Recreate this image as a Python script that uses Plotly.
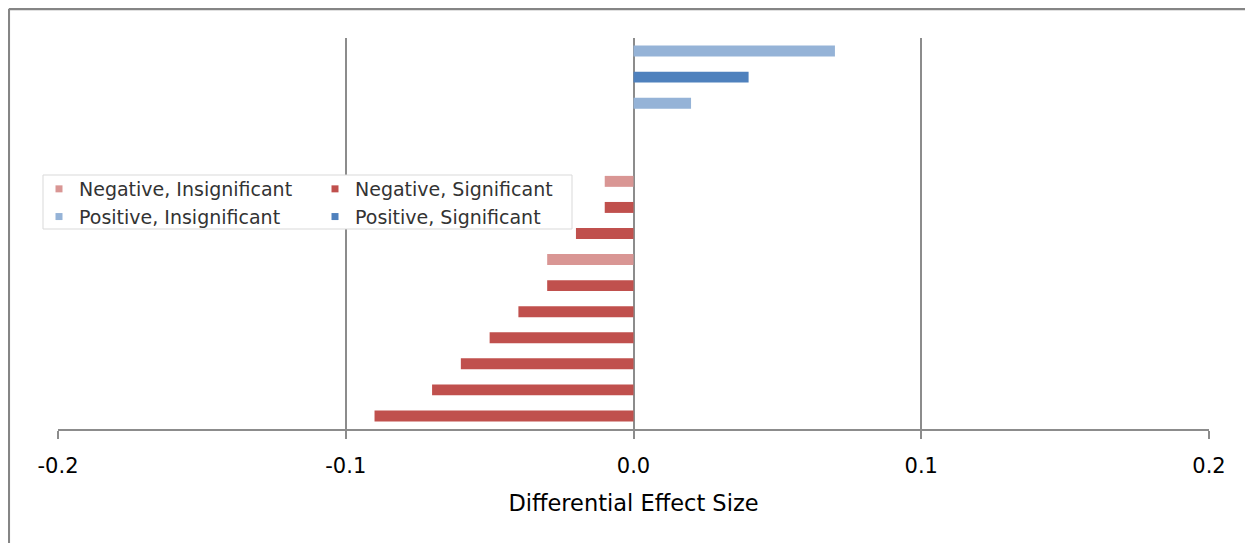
import plotly.graph_objects as go

# ---- data ----
rows = ["r1", "r2", "r3", "r4", "r5", "r6", "r7", "r8", "r9", "r10",
        "r11", "r12", "r13", "r14", "r15"]
effect_size = [0.07, 0.04, 0.02, None, None, -0.01, -0.01, -0.02, -0.03, -0.03,
               -0.04, -0.05, -0.06, -0.07, -0.09]
row_series = ["Positive, Insignificant", "Positive, Significant", "Positive, Insignificant",
              None, None,
              "Negative, Insignificant", "Negative, Significant", "Negative, Significant",
              "Negative, Insignificant", "Negative, Significant", "Negative, Significant",
              "Negative, Significant", "Negative, Significant", "Negative, Significant",
              "Negative, Significant"]
series_names = ["Negative, Insignificant", "Negative, Significant",
                "Positive, Insignificant", "Positive, Significant"]
series_colors = ["#d99694", "#c0504d", "#95b3d7", "#4f81bd"]
tick_values = [-0.2, -0.1, 0.0, 0.1, 0.2]
tick_labels = ["-0.2", "-0.1", "0.0", "0.1", "0.2"]
x_title = "Differential Effect Size"

GRID = "#8c8c8c"
AXFONT = "DejaVu Sans"

fig = go.Figure()
for name, color in zip(series_names, series_colors):
    xs = [v if s == name else None for v, s in zip(effect_size, row_series)]
    fig.add_trace(go.Bar(x=xs, y=rows, orientation="h", width=0.42,
                         marker=dict(color=color, line=dict(width=0)),
                         name=name, showlegend=False, hoverinfo="x"))
# legend entries with small square markers
for name, color in zip(series_names, series_colors):
    fig.add_trace(go.Scatter(x=[None], y=[None], mode="markers", name=name,
                             marker=dict(symbol="square", size=7, color=color),
                             showlegend=True))

# page has an 8px body offset; plot area on screen: x 58..1209, y 38..429
W, H = 1245, 535
L, R, T, B = 50, 44, 30, 114
pw, ph = W - L - R, H - T - B


def px(xs):  # screen x -> paper
    return (xs - 58) / pw


def py(ys):  # screen y -> paper
    return (429 - ys) / ph


shapes = [
    # legend box
    dict(type="rect", xref="paper", yref="paper", x0=px(43), x1=px(572), y0=py(229), y1=py(175),
         fillcolor="white", line=dict(color="#d9d9d9", width=1), layer="above"),
    # outer frame (top and left visible)
    dict(type="line", xref="paper", yref="paper", x0=px(8.8), x1=px(1270), y0=py(9), y1=py(9),
         line=dict(color="#858585", width=2.5)),
    dict(type="line", xref="paper", yref="paper", x0=px(8.8), x1=px(8.8), y0=py(9), y1=py(560),
         line=dict(color="#858585", width=2.5)),
]

fig.update_layout(
    width=W, height=H,
    margin=dict(l=L, r=R, t=T, b=B, autoexpand=False),
    paper_bgcolor="white", plot_bgcolor="white",
    barmode="overlay",
    shapes=shapes,
    showlegend=True,
    legend=dict(orientation="h", x=px(39), xanchor="left", y=py(170), yanchor="top",
                entrywidth=231, bgcolor="rgba(0,0,0,0)", borderwidth=0,
                font=dict(family="DejaVu Sans", size=19, color="#333333"),
                tracegroupgap=0),
    xaxis=dict(range=[-0.2, 0.2], tickmode="array", tickvals=tick_values, ticktext=tick_labels,
               showgrid=True, gridcolor=GRID, gridwidth=2,
               zeroline=True, zerolinecolor=GRID, zerolinewidth=2,
               showline=True, linecolor=GRID, linewidth=2,
               ticks="outside", ticklen=8, tickwidth=2, tickcolor=GRID,
               ticklabelstandoff=9,
               tickfont=dict(family=AXFONT, size=21, color="black"),
               title=dict(text=x_title, standoff=18,
                          font=dict(family=AXFONT, size=22.5, color="black"))),
    yaxis=dict(type="category", categoryorder="array", categoryarray=rows,
               range=[14.5, -0.5], showticklabels=False, showgrid=False,
               zeroline=False, showline=False, ticks=""),
)

fig.write_html("out.html")
